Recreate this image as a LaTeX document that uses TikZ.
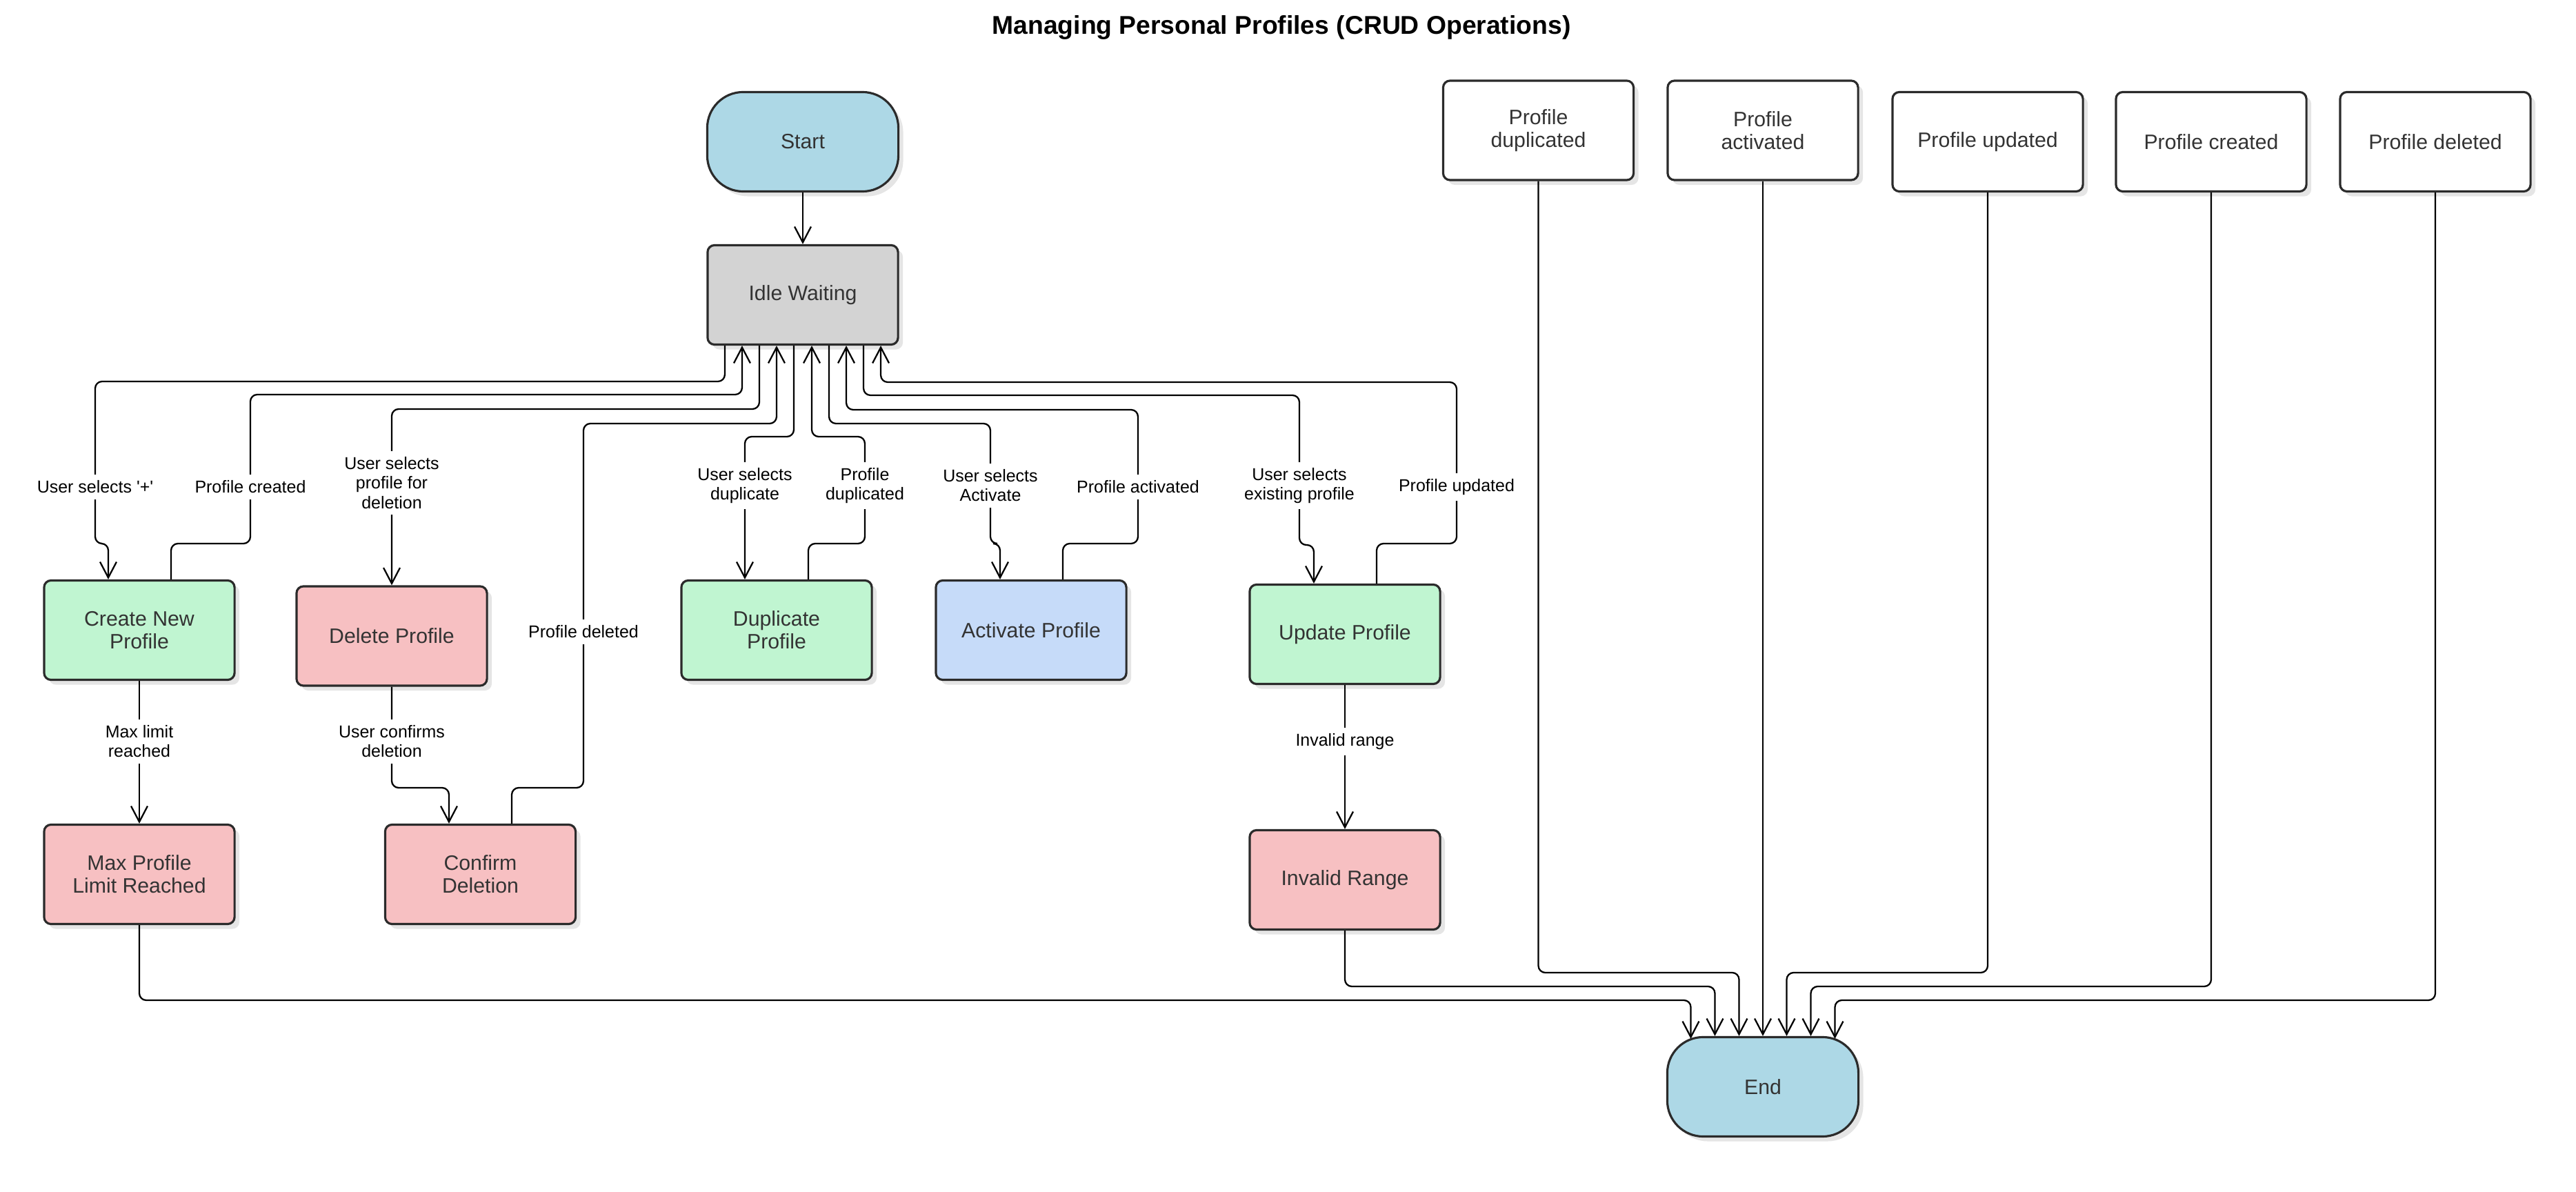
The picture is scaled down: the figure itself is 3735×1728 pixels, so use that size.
\documentclass[tikz,border=0pt]{standalone}
\usepackage{fontspec}
\newfontfamily\lsans{Liberation Sans}
\usetikzlibrary{arrows.meta,shadows}
\definecolor{startc}{HTML}{ADD8E6}
\definecolor{idlec}{HTML}{D3D3D3}
\definecolor{greenc}{HTML}{C0F5D1}
\definecolor{pinkc}{HTML}{F7C0C2}
\definecolor{bluec}{HTML}{C6DBF9}
\definecolor{bordc}{HTML}{2B2B2B}
\definecolor{txtc}{HTML}{333333}
\definecolor{shadc}{HTML}{E5E5E5}
\begin{document}
\begin{tikzpicture}[x=0.01cm,y=-0.01cm,
  box/.style={draw=bordc, line width=0.9pt, rounded corners=0.1cm,
    minimum width=2.76cm, minimum height=1.44cm, align=center, text=txtc,
    inner sep=0pt, font=\lsans\fontsize{8.6}{9.4}\selectfont,
    drop shadow={shadow xshift=0.07cm, shadow yshift=-0.07cm, fill=shadc, opacity=1}},
  term/.style={box, rounded corners=0.52cm, minimum width=2.77cm, minimum height=1.44cm, fill=startc},
  gbox/.style={box, fill=greenc},
  pbox/.style={box, fill=pinkc},
  wbox/.style={box, fill=white},
  conn/.style={draw=black, line width=0.65pt, rounded corners=0.1cm},
  arr/.style={conn, -{Straight Barb[length=6.5pt,width=6.8pt]}},
  lbl/.style={fill=white, font=\lsans\fontsize{7.1}{8}\selectfont, align=center, inner xsep=1pt, inner ysep=2.5pt},
]
\useasboundingbox (0,0) rectangle (3735,1728);

\node[font=\lsans\bfseries\fontsize{10.6}{12}\selectfont] (title) at (1858,40) {Managing Personal Profiles (CRUD Operations)};

% nodes
\node[term] (start) at (1164,205.5) {Start};
\node[box, fill=idlec] (idle) at (1164,427.5) {Idle Waiting};
\node[gbox] (create) at (202,913.5) {Create New\\Profile};
\node[pbox] (delete) at (568,922) {Delete Profile};
\node[gbox] (dup) at (1126,913.5) {Duplicate\\Profile};
\node[box, fill=bluec] (act) at (1495,913.5) {Activate Profile};
\node[gbox] (upd) at (1950,919.5) {Update Profile};
\node[pbox] (maxp) at (202,1267.5) {Max Profile\\Limit Reached};
\node[pbox] (confirm) at (696.5,1267.5) {Confirm\\Deletion};
\node[pbox] (invalid) at (1950,1275.5) {Invalid Range};
\node[term] (end) at (2556,1575.5) {End};
\node[wbox] (pdup) at (2230.5,189) {Profile\\duplicated};
\node[wbox] (pact) at (2556,189) {Profile\\activated};
\node[wbox] (pupd) at (2882,205.5) {Profile updated};
\node[wbox] (pcre) at (3206,205.5) {Profile created};
\node[wbox] (pdel) at (3531,205.5) {Profile deleted};

% connectors
\draw[arr] (start) -- (idle);
\draw[arr] ([xshift=-1.13cm]idle.south) |- (138,553) -- (138,788) -- (157,788) -- ([xshift=-0.45cm]create.north);
\draw[arr] ([xshift=0.46cm]create.north) -- (248,788) -- (363,788) -- (363,572) -| ([xshift=-0.88cm]idle.south);
\draw[arr] ([xshift=-0.63cm]idle.south) |- (568,593) -- (delete.north);
\draw[arr] ([xshift=0.455cm]confirm.north) -- (742,1142) -- (846,1142) -- (846,614) -| ([xshift=-0.38cm]idle.south);
\draw[arr] ([xshift=-0.13cm]idle.south) |- (1080,633) -- ([xshift=-0.46cm]dup.north);
\draw[arr] ([xshift=0.46cm]dup.north) -- (1172,788) -- (1254,788) -- (1254,633) -| ([xshift=0.13cm]idle.south);
\draw[arr] ([xshift=0.38cm]idle.south) |- (1436,614) -- (1436,788) -- (1450,788) -- ([xshift=-0.45cm]act.north);
\draw[arr] ([xshift=0.46cm]act.north) -- (1541,788) -- (1650,788) -- (1650,594) -| ([xshift=0.63cm]idle.south);
\draw[arr] ([xshift=0.88cm]idle.south) |- (1884,573) -- (1884,790) -- (1905,790) -- ([xshift=-0.45cm]upd.north);
\draw[arr] ([xshift=0.46cm]upd.north) -- (1996,788) -- (2112,788) -- (2112,554) -| ([xshift=1.13cm]idle.south);
\draw[arr] (create) -- (maxp);
\draw[arr] (delete.south) -- (568,1142) -- (651,1142) -- ([xshift=-0.455cm]confirm.north);
\draw[arr] (upd) -- (invalid);
\draw[arr] (maxp.south) |- (2451.5,1450) -- ([shift={(-104.5,4)}]end.north);
\draw[arr] (invalid.south) |- (2486.5,1430) -- ([xshift=-0.695cm]end.north);
\draw[arr] (pdup.south) |- (2521.5,1410) -- ([xshift=-0.345cm]end.north);
\draw[arr] (pact) -- (end);
\draw[arr] (pupd.south) |- (2590.5,1410) -- ([xshift=0.345cm]end.north);
\draw[arr] (pcre.south) |- (2625.5,1430) -- ([xshift=0.695cm]end.north);
\draw[arr] (pdel.south) |- (2660.5,1450) -- ([shift={(104.5,4)}]end.north);

% labels
\node[lbl] (lA) at (138,706) {User selects '+'};
\node[lbl] (lB) at (363,706) {Profile created};
\node[lbl] (lC) at (568,700) {User selects\\profile for\\deletion};
\node[lbl] (lD) at (846,916) {Profile deleted};
\node[lbl] (lE) at (1080,704) {User selects\\duplicate};
\node[lbl] (lF) at (1254,704) {Profile\\duplicated};
\node[lbl] (lG) at (1436,704) {User selects\\Activate};
\node[lbl] (lH) at (1650,706) {Profile activated};
\node[lbl] (lI) at (1884,704) {User selects\\existing profile};
\node[lbl] (lJ) at (2112,706) {Profile updated};
\node[lbl] (lK) at (202,1075) {Max limit\\reached};
\node[lbl] (lL) at (568,1075) {User confirms\\deletion};
\node[lbl] (lM) at (1950,1075) {Invalid range};
\end{tikzpicture}
\end{document}
